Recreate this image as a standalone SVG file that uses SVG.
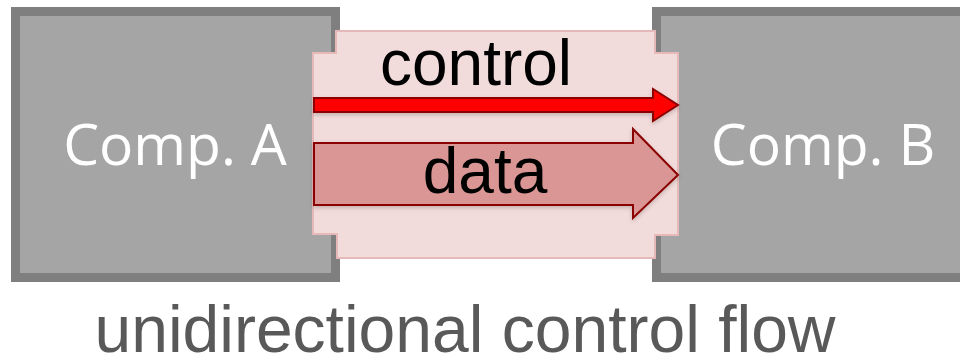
<svg xmlns="http://www.w3.org/2000/svg" width="960" height="356" viewBox="0 0 960 356">
  <style>
    .comp { fill: #a5a5a5; stroke: #7f7f7f; stroke-width: 9; }
    .comp-label { font-family: "Open Sans", "Liberation Sans", sans-serif; font-size: 57px; fill: #ffffff; text-anchor: middle; }
    .frame { fill: #f2dcdb; stroke: #e6b9b8; stroke-width: 2; }
    .ctrl { fill: #ff0000; stroke: #8b0000; stroke-width: 2; }
    .data { fill: #d99694; stroke: #8b0000; stroke-width: 2; }
    .flow-label { font-family: "Liberation Sans", Arial, sans-serif; font-size: 64px; fill: #000000; text-anchor: middle; }
    .caption { font-family: "Liberation Sans", Arial, sans-serif; font-size: 66px; fill: #595959; text-anchor: middle; }
  </style>
  <defs>
    <filter id="soft" x="-5%" y="-20%" width="110%" height="150%">
      <feDropShadow dx="0" dy="2" stdDeviation="2" flood-color="#000" flood-opacity="0.2"/>
    </filter>
  </defs>

  <g id="comp-a">
    <rect class="comp" x="15.5" y="11.5" width="320" height="266"/>
    <text class="comp-label" x="175" y="165">Comp. A</text>
  </g>

  <g id="comp-b">
    <rect class="comp" x="656.5" y="11.5" width="320" height="266"/>
    <text class="comp-label" x="823" y="165">Comp. B</text>
  </g>

  <g id="connectors">
    <polygon class="frame" points="336,31 655,31 655,53 678,53 678,235 655,235 655,258 337,258 337,234 313,234 313,53 336,53"/>
    <g id="control-flow">
      <polygon class="ctrl" filter="url(#soft)" points="314,98 653,98 653,89 678,105 653,121 653,112 314,112"/>
      <text class="flow-label" x="476" y="85">control</text>
    </g>
    <g id="data-flow">
      <polygon class="data" filter="url(#soft)" points="314,143 633,143 633,129 678,175 633,218 633,205 314,205"/>
      <text class="flow-label" x="485" y="193">data</text>
    </g>
  </g>

  <text class="caption" x="465" y="352">unidirectional control flow</text>
</svg>
